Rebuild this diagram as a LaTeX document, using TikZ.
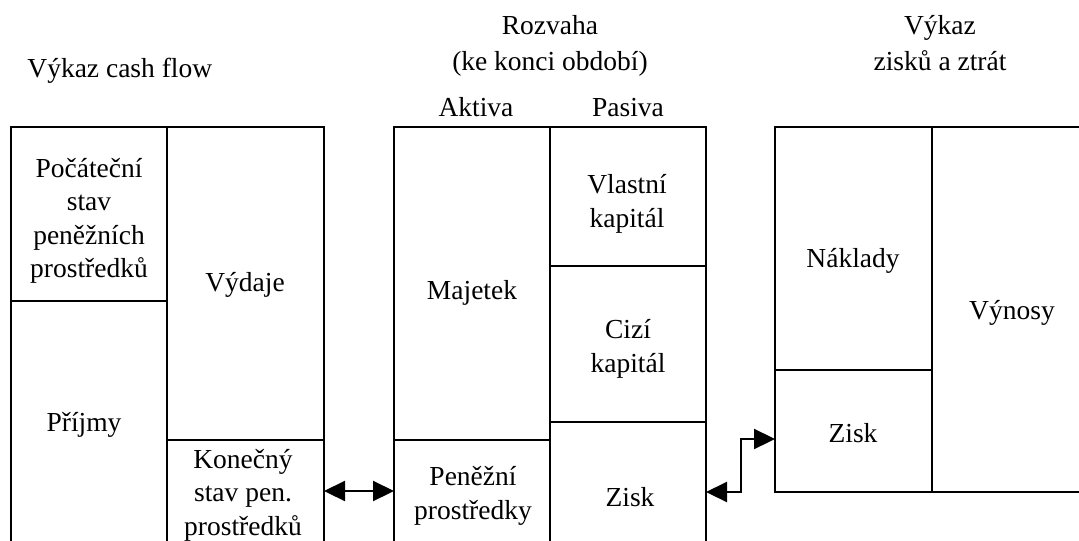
\documentclass[tikz,border=0pt]{standalone}
\usepackage{fontspec}
\setmainfont{Liberation Serif}
\usetikzlibrary{arrows.meta}
\tikzset{box/.style={line width=1.3pt},
         txt/.style={align=center, inner sep=0pt, font=\fontsize{13.75}{16.75}\selectfont},
         flow/.style={line width=1.1pt, {Triangle[length=10.5pt,width=10pt]}-{Triangle[length=10.5pt,width=10pt]}}
}
\begin{document}
\begin{tikzpicture}[x=0.5pt,y=-0.5pt]
\useasboundingbox (0,0) rectangle (1079,540);
\clip (0,0) rectangle (1079,540);

% titles
\node[txt, anchor=base west] (tcash) at (27,77) {Výkaz cash flow};
\node[txt, anchor=base] (trozvaha) at (550,35) {Rozvaha};
\node[txt, anchor=base] (tobdobi) at (550,71) {(ke konci období)};
\node[txt, anchor=base] (taktiva) at (476,116) {Aktiva};
\node[txt, anchor=base] (tpasiva) at (628,116) {Pasiva};
\node[txt, anchor=base] (tvykaz) at (940,35) {Výkaz};
\node[txt, anchor=base] (tzisku) at (940,71) {zisků a ztrát};

% vykaz cash flow
\draw[box] (11,570) -- (11,127) -- (324,127) -- (324,570);
\draw[box] (167,127) -- (167,570);
\draw[box] (11,301) -- (167,301);
\draw[box] (167,440) -- (324,440);
\node[txt] (pocatecni) at (89,221) {Počáteční\\stav\\peněžních\\prostředků};
\node[txt] (vydaje) at (245,285) {Výdaje};
\node[txt] (prijmy) at (84,425) {Příjmy};
\node[txt] (konecny) at (243,495) {Konečný\\stav pen.\\prostředků};

% rozvaha
\draw[box] (394,570) -- (394,127) -- (706,127) -- (706,570);
\draw[box] (550,127) -- (550,570);
\draw[box] (394,440) -- (550,440);
\draw[box] (550,266) -- (706,266);
\draw[box] (550,422) -- (706,422);
\node[txt] (majetek) at (472,293) {Majetek};
\node[txt] (penezni) at (473,496) {Peněžní\\prostředky};
\node[txt] (vlastni) at (627,204) {Vlastní\\kapitál};
\node[txt] (cizi) at (628,349) {Cizí\\kapitál};
\node[txt] (ziskr) at (630,497) {Zisk};

% vykaz zisku a ztrat
\draw[box] (775,127) rectangle (1095,492);
\draw[box] (932,127) -- (932,492);
\draw[box] (775,370) -- (932,370);
\node[txt] (naklady) at (853,261) {Náklady};
\node[txt] (vynosy) at (1012,313) {Výnosy};
\node[txt] (ziskv) at (853,433) {Zisk};

% vazby
\coordinate (cfout) at (324,491);
\coordinate (rzin) at (394,491);
\coordinate (rzout) at (706,492);
\coordinate (vzin) at (775,439);
\draw[flow] (cfout) -- (rzin);
\draw[flow] (rzout) -- ++(35,0) |- (vzin);

\end{tikzpicture}
\end{document}
